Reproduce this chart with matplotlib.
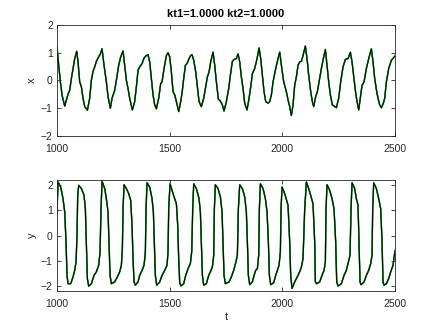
import matplotlib
matplotlib.use("Agg")
import matplotlib.pyplot as plt

plt.rcParams['font.family'] = ['Liberation Sans', 'DejaVu Sans']

title = "kt1=1.0000 kt2=1.0000"

# ---- x(t) series (top panel) ----
tx = [1000.2, 1007.6, 1015.0, 1022.3, 1034.2, 1041.6, 1049.0, 1056.4, 1063.8, 1071.2,
      1078.6, 1087.4, 1093.4, 1100.7, 1108.2, 1115.5, 1123.0, 1134.8, 1145.1, 1152.5,
      1159.9, 1167.3, 1174.7, 1182.1, 1192.5, 1199.9, 1208.7, 1219.1, 1226.5, 1236.8,
      1244.2, 1256.1, 1263.5, 1273.8, 1282.7, 1293.1, 1300.5, 1307.9, 1315.2, 1322.6,
      1334.5, 1344.8, 1352.2, 1359.6, 1367.0, 1377.4, 1386.3, 1396.6, 1404.0, 1411.4,
      1418.8, 1426.2, 1433.6, 1441.0, 1451.3, 1460.2, 1466.1, 1475.0, 1485.4, 1492.8,
      1500.2, 1507.6, 1515.0, 1522.4, 1529.8, 1540.1, 1547.5, 1554.9, 1562.3, 1569.7,
      1577.1, 1586.0, 1593.4, 1599.3, 1606.7, 1615.6, 1623.0, 1630.4, 1640.7, 1651.1,
      1660.0, 1667.4, 1674.8, 1682.2, 1692.5, 1699.9, 1707.3, 1716.2, 1725.1, 1733.9,
      1741.3, 1751.7, 1762.0, 1769.4, 1778.3, 1785.7, 1796.1, 1803.5, 1810.9, 1818.2,
      1825.6, 1833.0, 1843.4, 1852.3, 1859.7, 1867.1, 1877.4, 1887.8, 1896.7, 1904.0,
      1911.4, 1918.8, 1926.2, 1936.6, 1944.0, 1951.4, 1958.8, 1970.6, 1981.0, 1988.4,
      1995.8, 2006.1, 2017.9, 2025.3, 2032.7, 2040.1, 2047.5, 2054.9, 2062.3, 2069.7,
      2077.1, 2084.5, 2091.9, 2102.2, 2109.6, 2117.0, 2125.9, 2133.3, 2139.2, 2148.1,
      2155.5, 2162.9, 2173.2, 2183.6, 2191.0, 2198.4, 2205.8, 2213.2, 2222.0, 2239.8,
      2250.1, 2259.0, 2269.4, 2279.7, 2291.6, 2301.9, 2309.3, 2318.2, 2325.6, 2333.0,
      2338.9, 2347.8, 2353.7, 2362.6, 2372.9, 2383.3, 2395.1, 2402.5, 2409.9, 2418.8,
      2424.7, 2432.1, 2439.5, 2448.4, 2454.3, 2461.7, 2472.0, 2483.9, 2500.0]
xv = [1.20, 0.55, -0.05, -0.52, -0.92, -0.70, -0.50, -0.35, 0.07, 0.43,
      0.79, 1.05, 0.67, -0.05, -0.23, -0.64, -0.94, -1.07, -0.64, 0.01,
      0.33, 0.49, 0.69, 0.81, 0.96, 1.14, 0.55, -0.05, -0.58, -1.00,
      -0.64, -0.35, 0.01, 0.55, 0.85, 1.06, 0.55, 0.01, -0.29, -0.64,
      -1.06, -0.76, -0.23, 0.37, 0.49, 0.61, 0.81, 0.90, 0.93, 0.67,
      0.07, -0.52, -0.88, -1.02, -0.64, -0.11, -0.05, 0.43, 0.90, 1.00,
      0.85, 0.31, -0.40, -0.52, -0.76, -1.12, -0.82, -0.46, 0.07, 0.55,
      0.61, 0.79, 0.90, 0.93, 0.73, 0.31, -0.23, -0.76, -0.94, -0.64,
      -0.23, 0.13, 0.31, 0.67, 1.02, 0.55, -0.05, -0.67, -0.74, -0.88,
      -1.10, -0.76, -0.29, 0.19, 0.69, 0.76, 0.79, 0.96, 0.67, 0.13,
      -0.29, -0.82, -1.06, -0.64, -0.23, 0.25, 0.43, 0.79, 1.17, 0.79,
      0.19, -0.40, -0.76, -0.82, -0.76, -0.52, -0.05, 0.43, 0.79, 1.02,
      0.55, -0.05, -0.40, -0.70, -0.94, -1.26, -0.88, -0.17, 0.13, 0.55,
      0.67, 0.69, 0.90, 1.24, 0.79, 0.19, -0.40, -0.76, -0.94, -0.58,
      -0.40, -0.05, 0.43, 0.85, 1.12, 0.55, -0.05, -0.52, -0.88, -0.98,
      -0.64, -0.05, 0.49, 0.76, 0.79, 1.02, 0.67, 0.07, -0.46, -0.82,
      -1.06, -0.52, -0.17, -0.05, 0.43, 0.79, 1.14, 0.67, 0.07, -0.40,
      -0.64, -0.88, -0.98, -0.82, -0.64, -0.05, 0.43, 0.73, 0.88]

# ---- y(t) series (bottom panel) ----
ty = [1000.0, 1004.6, 1016.4, 1026.8, 1034.2, 1040.1, 1044.5, 1049.0, 1060.8, 1071.2,
      1078.6, 1084.5, 1088.9, 1091.9, 1096.3,
      1108.2, 1120.0, 1125.9, 1130.3, 1134.8, 1140.7, 1152.5, 1164.4, 1174.7, 1185.1,
      1191.0, 1195.4, 1199.9,
      1211.7, 1219.1, 1226.5, 1230.9, 1235.4, 1241.3, 1256.1, 1267.9, 1278.3, 1285.7,
      1290.1, 1293.1, 1297.5,
      1307.9, 1318.2, 1327.1, 1333.0, 1337.4, 1341.9, 1347.8, 1359.6, 1367.0, 1377.4,
      1386.3, 1392.2, 1395.1, 1399.6,
      1411.4, 1421.8, 1427.7, 1432.1, 1436.5, 1442.5, 1455.8, 1466.1, 1478.0, 1488.3,
      1492.8, 1495.7, 1501.6,
      1515.0, 1522.4, 1529.8, 1535.7, 1540.1, 1544.6, 1550.5, 1562.3, 1571.2, 1581.6,
      1591.9, 1597.8, 1602.3, 1606.7,
      1618.5, 1630.4, 1636.3, 1640.7, 1645.2, 1651.1, 1662.9, 1673.3, 1680.7, 1689.5,
      1695.5, 1698.4, 1702.9,
      1714.7, 1725.1, 1732.5, 1736.9, 1741.3, 1747.2, 1763.5, 1773.9, 1784.2, 1793.1,
      1800.5, 1804.9, 1810.9,
      1822.7, 1833.0, 1840.4, 1844.9, 1849.3, 1855.2, 1867.1, 1874.5, 1881.9, 1889.3,
      1895.2, 1898.1, 1902.6,
      1914.4, 1924.8, 1932.2, 1938.1, 1942.5, 1948.4, 1961.8, 1970.6, 1978.0, 1985.4,
      1991.3, 1994.3, 1998.7,
      2010.5, 2025.3, 2032.7, 2037.1, 2043.0, 2054.9, 2069.7, 2077.1, 2084.5, 2091.9,
      2099.3, 2106.7,
      2117.0, 2125.9, 2136.2, 2143.6, 2146.6, 2152.5, 2165.8, 2176.2, 2185.1, 2191.0,
      2193.9, 2198.4,
      2210.2, 2220.6, 2229.4, 2236.8, 2241.3, 2247.2, 2262.0, 2273.8, 2284.2, 2291.6,
      2300.4, 2304.9, 2309.3,
      2321.2, 2328.5, 2336.0, 2340.4, 2344.8, 2349.3, 2362.6, 2372.9, 2383.3, 2392.2,
      2398.1, 2401.0, 2405.5,
      2417.3, 2427.7, 2436.5, 2442.5, 2446.9, 2451.3, 2461.7, 2472.0, 2480.9, 2491.3,
      2500.0]
yv = [0.90, 2.12, 1.92, 1.46, 0.93, -0.26, -1.58, -1.91, -1.91, -1.64,
      -1.38, -1.05, 0.01, 1.59, 1.99,
      1.86, 1.59, 1.06, -0.26, -1.71, -2.01, -1.91, -1.58, -1.44, -1.18,
      -0.65, 1.06, 2.15,
      1.86, 1.46, 0.93, -0.26, -1.58, -1.91, -1.84, -1.64, -1.44, -1.18,
      -0.52, 1.06, 2.01,
      1.86, 1.66, 1.39, 0.40, -0.92, -1.84, -1.97, -1.84, -1.58, -1.38,
      -1.18, -0.65, 1.06, 2.09,
      1.92, 1.46, 0.93, -0.26, -1.58, -1.97, -1.84, -1.58, -1.38, -1.18,
      -0.65, 1.06, 2.05,
      1.66, 1.46, 1.26, 0.40, -0.92, -1.87, -2.00, -1.91, -1.58, -1.31,
      -1.11, -0.65, 1.06, 2.05,
      1.86, 1.46, 0.93, -0.26, -1.58, -1.97, -1.91, -1.58, -1.44, -1.25,
      -0.78, 1.06, 2.01,
      1.86, 1.53, 0.93, -0.26, -1.58, -1.91, -1.84, -1.64, -1.38, -1.08,
      -0.78, 1.06, 2.01,
      1.86, 1.53, 0.93, -0.26, -1.58, -1.95, -1.84, -1.58, -1.38, -1.31,
      -0.78, 1.06, 2.05,
      1.86, 1.46, 0.93, -0.26, -1.58, -1.95, -1.87, -1.58, -1.38, -1.18,
      -0.65, 1.06, 1.92,
      1.66, 1.20, -0.26, -1.58, -2.10, -1.84, -1.58, -1.44, -1.25, -0.92,
      1.06, 2.12,
      1.86, 1.59, 1.26, -0.26, -1.84, -1.91, -1.84, -1.58, -1.38, -1.05,
      1.06, 2.01,
      1.79, 1.46, 1.06, -0.26, -1.84, -2.00, -1.91, -1.58, -1.38, -1.11,
      -0.78, 1.06, 2.09,
      1.86, 1.46, 1.20, -0.26, -1.84, -1.95, -1.84, -1.58, -1.38, -1.11,
      -0.78, 1.06, 2.09,
      1.86, 1.46, 1.06, -0.26, -1.84, -1.97, -1.91, -1.71, -1.44, -1.18,
      -0.60]

xticks = [1000, 1500, 2000, 2500]
x_yticks = [-2, -1, 0, 1, 2]
y_yticks = [-2, -1, 0, 1, 2]

W, H = 436, 327
fig = plt.figure(figsize=(W / 100, H / 100), dpi=100)
fig.patch.set_facecolor('white')

ax1 = fig.add_axes([57 / W, 1 - 136 / H, (395 - 57) / W, (136 - 25) / H])
ax2 = fig.add_axes([57 / W, 1 - 291 / H, (395 - 57) / W, (291 - 180) / H])

axcol = '#262626'
for ax, t, v, yl, yt, ylab in [(ax1, tx, xv, (-2, 2), x_yticks, 'x'),
                               (ax2, ty, yv, (-2.2, 2.2), y_yticks, 'y')]:
    ax.plot(t, v, color='#ff0000', lw=0.9)
    ax.plot(t, v, color='#0000ff', lw=0.9)
    ax.plot(t, v, color='#00dd00', lw=1.1)
    ax.plot(t, v, color='#000000', lw=0.7)
    ax.set_xlim(1000, 2500)
    ax.set_ylim(*yl)
    ax.set_xticks(xticks)
    ax.set_yticks(yt)
    ax.tick_params(direction='in', length=3, width=0.6, colors=axcol,
                   labelsize=7.5, top=True, right=True)
    ax.tick_params(axis='x', pad=6)
    ax.tick_params(axis='y', pad=3)
    for s in ax.spines.values():
        s.set_color(axcol)
        s.set_linewidth(0.6)
    ax.set_ylabel(ylab, fontsize=8, color=axcol, labelpad=3)

ax1.set_title(title, fontsize=8, fontweight='bold', color='#000000', pad=5.5)
ax2.set_xlabel('t', fontsize=8, color=axcol, labelpad=2)

fig.savefig('out.png', dpi=100)
